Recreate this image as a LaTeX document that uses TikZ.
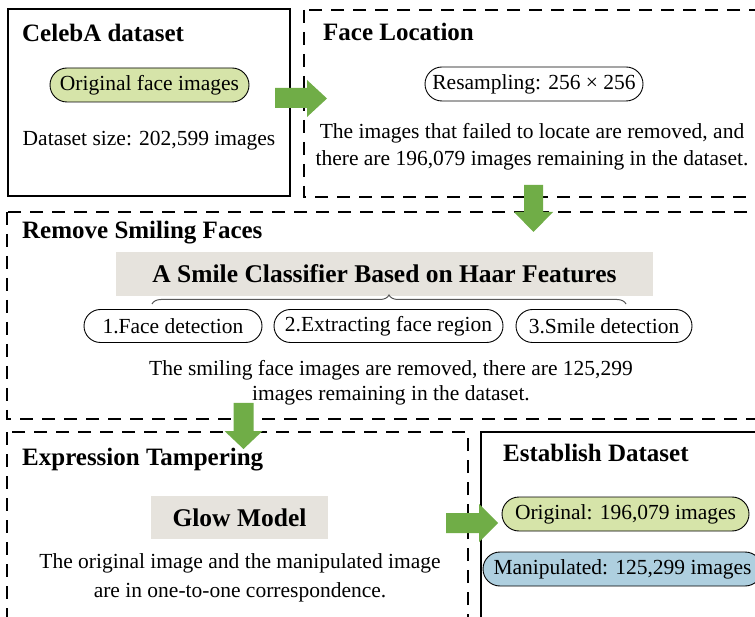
\documentclass[tikz,border=0pt]{standalone}
\usepackage{fontspec}
\setmainfont{Liberation Serif}
\usetikzlibrary{shapes.misc,decorations.pathreplacing}

\definecolor{arrowgreen}{HTML}{70AD47}
\definecolor{pillgreen}{HTML}{D6E4A9}
\definecolor{pillblue}{HTML}{AECFDF}
\definecolor{panelgray}{HTML}{E6E3DD}

\tikzset{
  solidframe/.style={draw=black, line width=2.7pt},
  dashframe/.style={draw=black, line width=2.4pt, dash pattern=on 13pt off 9pt},
  heading/.style={anchor=west, inner sep=0pt, font=\fontsize{25}{30}\selectfont\bfseries},
  body/.style={align=center, inner sep=0pt, font=\fontsize{21.5}{27}\selectfont},
  pill/.style={rounded rectangle, draw=black, line width=0.9pt, inner sep=0pt,
    minimum height=34pt, font=\fontsize{21.5}{26}\selectfont},
  banner/.style={fill=panelgray, inner sep=0pt, font=\fontsize{25.5}{30}\selectfont\bfseries},
  blockarrow/.style={fill=arrowgreen, draw=none},
}

\begin{document}
\begin{tikzpicture}[x=1pt, y=-1pt]
  \clip (0,0) rectangle (755,617);
  \fill[white] (0,0) rectangle (755,617);

  % stage frames
  \draw[solidframe] (8,9) rectangle (290,196);
  \draw[dashframe]  (304,10) rectangle (775,197);
  \draw[dashframe]  (7,212) rectangle (775,419);
  \draw[dashframe]  (7,432) rectangle (468,640);
  \draw[solidframe] (481,432) rectangle (775,640);

  % CelebA dataset
  \node[heading] (celebTitle) at (22,33) {CelebA dataset};
  \node[pill, fill=pillgreen, minimum width=199pt] (origFaces) at (149.5,85) {Original face images};
  \node[body] (celebSize) at (149,141) {Dataset size: 202,599 images};

  % Face location
  \node[heading] (locTitle) at (323,32) {Face Location};
  \node[pill, minimum width=218pt] (resample) at (534,84) {Resampling: 256 × 256};
  \node[body] (locText) at (532,146.5) {The images that failed to locate are removed, and\\there are 196,079 images remaining in the dataset.};

  % Smile removal
  \node[heading] (smileTitle) at (22,233) {Remove Smiling Faces};
  \node[banner, minimum width=537pt, minimum height=44pt] (classifier) at (384.5,274) {A Smile Classifier Based on Haar Features};
  \draw[draw=black!65, line width=1pt, decorate, decoration={brace, amplitude=9pt}]
    (152,304) -- (626,304);
  \node[pill, minimum width=178pt, minimum height=33pt] (stepA) at (173,326) {1.Face detection};
  \node[pill, minimum width=229pt, minimum height=33pt] (stepB) at (388.5,326) {2.Extracting face region};
  \node[pill, minimum width=176pt, minimum height=33pt] (stepC) at (604,326) {3.Smile detection};
  \node[body, font=\fontsize{21.5}{25}\selectfont] (smileText) at (391,382.5) {The smiling face images are removed, there are 125,299\\images remaining in the dataset.};

  % Expression tampering
  \node[heading] (tamperTitle) at (22,460) {Expression Tampering};
  \node[banner, minimum width=177pt, minimum height=43pt] (glow) at (239.5,517.5) {Glow Model};
  \node[body, font=\fontsize{21.5}{29}\selectfont] (tamperText) at (240,577.5) {The original image and the manipulated image\\are in one-to-one correspondence.};

  % Final dataset
  \node[heading] (finalTitle) at (503,453) {Establish Dataset};
  \node[pill, fill=pillgreen, minimum width=247pt] (origSet) at (625.5,514) {Original: 196,079 images};
  \node[pill, fill=pillblue, minimum width=279pt] (manipSet) at (622.5,569) {Manipulated: 125,299 images};

  % block arrows between stages
  \fill[blockarrow] (275,88) -- (307,88) -- (307,80) -- (327,98.5) -- (307,117) -- (307,108) -- (275,108) -- cycle;
  \fill[blockarrow] (524,185) -- (543,185) -- (543,212) -- (553,212) -- (533.5,232) -- (514,212) -- (524,212) -- cycle;
  \fill[blockarrow] (233.5,403) -- (253.5,403) -- (253.5,431) -- (262.5,431) -- (243.5,449) -- (224.5,431) -- (233.5,431) -- cycle;
  \fill[blockarrow] (446,513) -- (479,513) -- (479,504) -- (498,523) -- (479,542) -- (479,533) -- (446,533) -- cycle;
\end{tikzpicture}
\end{document}
